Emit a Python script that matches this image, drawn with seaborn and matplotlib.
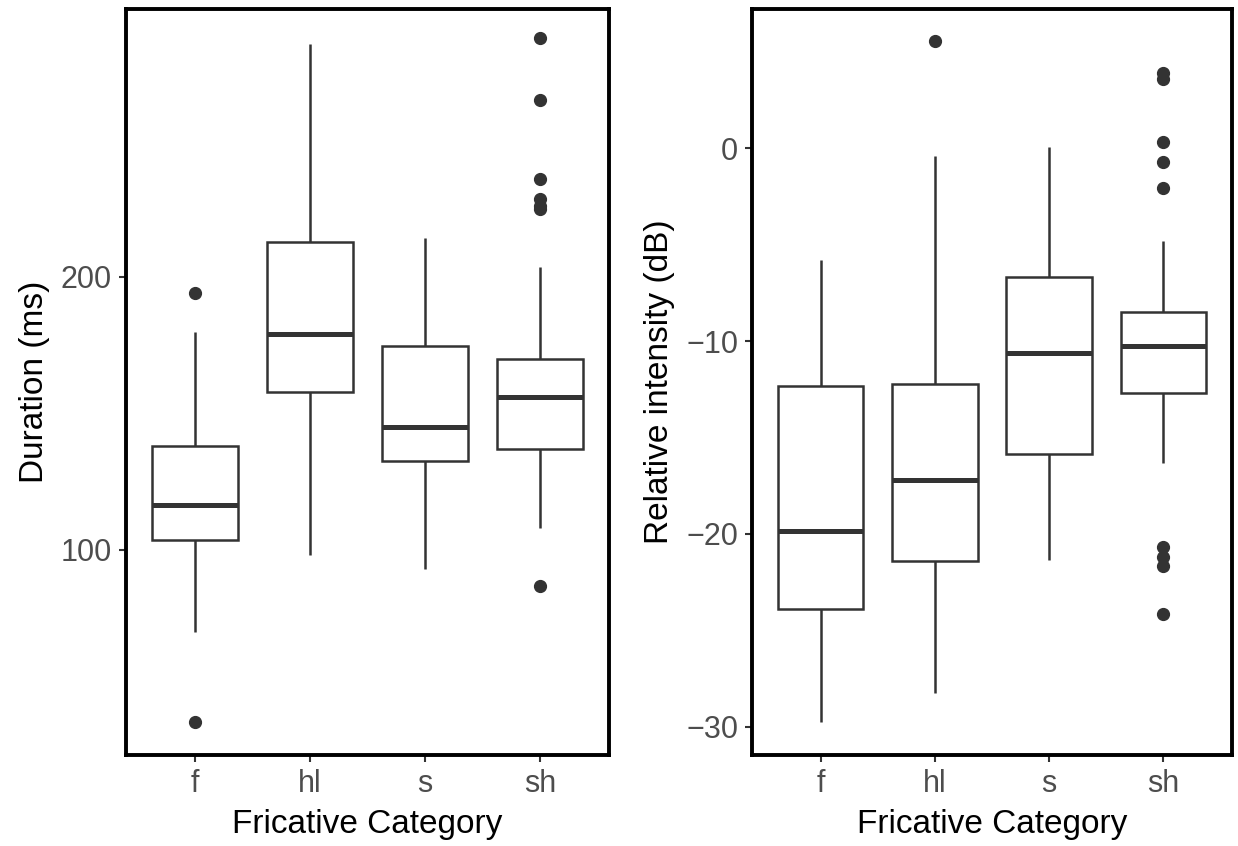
import numpy as np
import pandas as pd
import matplotlib
matplotlib.use("Agg")
import matplotlib.pyplot as plt
import seaborn as sns

# ---- data ----
categories = ["f", "hl", "s", "sh"]

# Duration (ms): box summaries
dur_whislo = [70.1, 98.2, 93.0, 108.2]
dur_q1 = [103.5, 157.8, 132.6, 136.9]
dur_med = [116.3, 178.9, 145.0, 155.8]
dur_q3 = [138.2, 212.6, 174.6, 169.7]
dur_whishi = [179.9, 285.1, 214.2, 203.4]
dur_out_low = [[37.2], [], [], [86.8]]
dur_out_high = [[194.1], [], [], [224.8, 226.0, 228.4, 235.8, 264.6, 287.3]]

# Relative intensity (dB): box summaries
int_whislo = [-29.75, -28.24, -21.37, -16.31]
int_q1 = [-23.9, -21.39, -15.87, -12.7]
int_med = [-19.86, -17.22, -10.63, -10.24]
int_q3 = [-12.31, -12.22, -6.66, -8.5]
int_whishi = [-5.79, -0.40, 0.08, -4.79]
int_out_low = [[], [], [], [-24.17, -21.67, -21.18, -20.67]]
int_out_high = [[], [5.56], [], [-2.07, -0.73, 0.34, 3.58, 3.92]]


def sample_from_summary(lo, q1, med, q3, hi, outs_lo, outs_hi):
    """Build a sorted sample whose linear quartiles / whiskers reproduce the summary."""
    a, b = len(outs_lo), len(outs_hi)
    k = max(a, b) + 1
    n = 4 * k + 1
    vals = list(sorted(outs_lo)) + [lo]
    vals += [q1] * (k + 1 - len(vals))
    vals += [med] * k
    n_q3 = n - 1 - b - len(vals)
    vals += [q3] * n_q3
    vals += [hi] + list(sorted(outs_hi))
    return vals


def build_frame(lo, q1, med, q3, hi, ol, oh):
    rows = []
    for i, c in enumerate(categories):
        for v in sample_from_summary(lo[i], q1[i], med[i], q3[i], hi[i], ol[i], oh[i]):
            rows.append((c, v))
    return pd.DataFrame(rows, columns=["cat", "val"])


df_dur = build_frame(dur_whislo, dur_q1, dur_med, dur_q3, dur_whishi, dur_out_low, dur_out_high)
df_int = build_frame(int_whislo, int_q1, int_med, int_q3, int_whishi, int_out_low, int_out_high)

sns.set_style("white")
plt.rcParams["font.family"] = ["Liberation Sans", "DejaVu Sans"]
plt.rcParams["axes.unicode_minus"] = True

fig = plt.figure(figsize=(12.38, 8.46), dpi=100)
ax1 = fig.add_axes([126 / 1238, 1 - 755 / 846, 483 / 1238, 746 / 846])
ax2 = fig.add_axes([752 / 1238, 1 - 755 / 846, 480 / 1238, 746 / 846])

LC = "#333333"
box_kw = dict(
    x="cat", y="val", order=categories, width=0.75, color="white",
    linecolor=LC, linewidth=1.8, showcaps=False, fliersize=8.5,
    medianprops=dict(linewidth=3.6, color=LC),
    flierprops=dict(marker="o", markerfacecolor=LC, markeredgecolor=LC),
)

sns.boxplot(data=df_dur, ax=ax1, **box_kw)
sns.boxplot(data=df_int, ax=ax2, **box_kw)

ax1.set_ylim(25.0, 297.9)
ax1.set_yticks([100, 200])
ax2.set_ylim(-31.47, 7.22)
ax2.set_yticks([0, -10, -20, -30])

for ax, ylabel in ((ax1, "Duration (ms)"), (ax2, "Relative intensity (dB)")):
    ax.set_xlim(-0.6, 3.6)
    ax.set_xlabel("Fricative Category", fontsize=24, color="black", labelpad=7)
    ax.set_ylabel(ylabel, fontsize=24, color="black", labelpad=8)
    ax.tick_params(axis="both", which="major", labelsize=22, labelcolor="#4D4D4D",
                   color=LC, length=5, width=1.5, bottom=True, left=True)
    ax.tick_params(axis="x", pad=5)
    ax.tick_params(axis="y", pad=5)
    for sp in ax.spines.values():
        sp.set_visible(True)
        sp.set_color("black")
        sp.set_linewidth(2.8)
    ax.set_facecolor("white")

fig.savefig("out.png", dpi=100, facecolor="white")
